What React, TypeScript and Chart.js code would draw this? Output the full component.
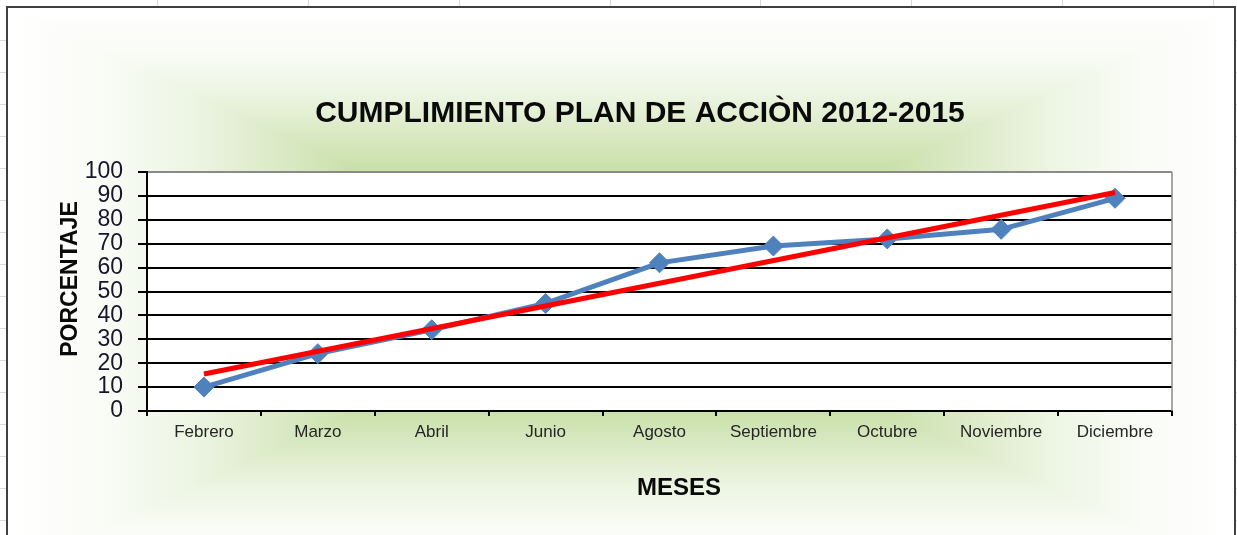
import React, { useEffect, useRef } from 'react';
import { Chart, registerables } from 'chart.js';

Chart.register(...registerables);

const TITLE = 'CUMPLIMIENTO PLAN DE ACCIÒN 2012-2015';
const Y_TITLE = 'PORCENTAJE';
const X_TITLE = 'MESES';

const months = ['Febrero', 'Marzo', 'Abril', 'Junio', 'Agosto', 'Septiembre', 'Octubre', 'Noviembre', 'Diciembre'];
const cumplimiento = [10, 24, 34, 45, 62, 69, 72, 76, 89];
const tendencia = [15.5, null, null, null, null, null, null, null, 91.4];

const Y_MIN = 0;
const Y_MAX = 100;
const Y_STEP = 10;

const FAMILY = "'Liberation Sans', Arial, sans-serif";
const W = 1226;
const H = 560;

const sheetCols = [157, 308, 459, 610, 760, 911, 1062, 1213];
const sheetRows = [40, 72, 104, 136, 168, 200, 232, 264, 296, 328, 360, 392, 424, 456, 488, 520];

const STOPS: [number, string][] = [
  [0, '#b7d68e'],
  [0.4, '#c5dea2'],
  [0.55, '#dae9c4'],
  [0.7, '#edf5e3'],
  [0.85, '#fafcf7'],
  [1, '#ffffff'],
];

const decorPlugin = {
  id: 'decor',
  beforeDraw(chart: any) {
    const ctx = chart.ctx as CanvasRenderingContext2D;
    const cx = 613;
    const cy = 282;
    const w = W;
    const h = cy * 2;
    ctx.save();
    // vertical (top/bottom) part over the whole box
    const gv = ctx.createLinearGradient(0, 0, 0, h);
    STOPS.forEach(([o, c]) => gv.addColorStop(0.5 - o / 2, c));
    STOPS.forEach(([o, c]) => gv.addColorStop(0.5 + o / 2, c));
    ctx.fillStyle = gv;
    ctx.fillRect(0, 0, W, H);
    // left / right triangles on top
    const tris = [
      { a: [0, 0], b: [0, h], to: [0, cy] },
      { a: [w, 0], b: [w, h], to: [w, cy] },
    ];
    for (const t of tris) {
      const g = ctx.createLinearGradient(cx, cy, t.to[0], t.to[1]);
      STOPS.forEach(([o, c]) => g.addColorStop(o, c));
      ctx.beginPath();
      ctx.moveTo(cx, cy);
      ctx.lineTo(t.a[0], t.a[1]);
      ctx.lineTo(t.b[0], t.b[1]);
      ctx.closePath();
      ctx.fillStyle = g;
      ctx.fill();
    }
    const a = chart.chartArea;
    ctx.fillStyle = '#ffffff';
    ctx.fillRect(a.left, a.top, a.right - a.left, a.bottom - a.top);
    ctx.restore();
  },
  beforeDatasetsDraw(chart: any) {
    const ctx = chart.ctx as CanvasRenderingContext2D;
    const a = chart.chartArea;
    ctx.save();
    ctx.strokeStyle = '#8a8a8a';
    ctx.lineWidth = 1.5;
    ctx.beginPath();
    ctx.moveTo(a.right, a.top);
    ctx.lineTo(a.right, a.bottom);
    ctx.stroke();
    ctx.restore();
  },
  afterDraw(chart: any) {
    const ctx = chart.ctx as CanvasRenderingContext2D;
    ctx.save();
    ctx.fillStyle = '#0a0a0a';
    ctx.textAlign = 'center';
    ctx.textBaseline = 'middle';
    ctx.font = `bold 30px ${FAMILY}`;
    ctx.fillText(TITLE, 632, 106);
    ctx.font = `bold 24px ${FAMILY}`;
    ctx.fillText(X_TITLE, 671, 480);
    ctx.translate(63, 271);
    ctx.rotate(-Math.PI / 2);
    ctx.font = `bold 23px ${FAMILY}`;
    ctx.fillText(Y_TITLE, 0, 0);
    ctx.restore();
  },
};

export default function App() {
  const ref = useRef<HTMLCanvasElement>(null);

  useEffect(() => {
    if (!ref.current) return;
    const chart = new Chart(ref.current, {
      type: 'line',
      data: {
        labels: months,
        datasets: [
          {
            label: 'Tendencia',
            data: tendencia,
            borderColor: '#ff0000',
            backgroundColor: '#ff0000',
            borderWidth: 5,
            pointRadius: 0,
            spanGaps: true,
            order: 0,
          },
          {
            label: 'Cumplimiento',
            data: cumplimiento,
            borderColor: '#4f81bd',
            backgroundColor: '#4f81bd',
            borderWidth: 5,
            pointStyle: 'rectRot',
            pointRadius: 10,
            pointBackgroundColor: '#4f81bd',
            pointBorderColor: '#4f81bd',
            pointBorderWidth: 1,
            tension: 0,
            order: 1,
          },
        ],
      },
      options: {
        responsive: false,
        animation: false,
        layout: { padding: { left: 0, right: 62, top: 164, bottom: 0 } },
        plugins: {
          legend: { display: false },
          title: { display: false },
          tooltip: { enabled: false },
        },
        scales: {
          x: {
            type: 'category',
            offset: true,
            grid: {
              offset: true,
              drawOnChartArea: false,
              drawTicks: true,
              tickLength: 5,
              tickColor: '#000',
              tickWidth: 2,
              color: '#000',
              lineWidth: 2,
            },
            border: { display: true, color: '#000', width: 2 },
            ticks: {
              font: { family: FAMILY, size: 17 },
              color: '#262626',
              padding: 6,
              maxRotation: 0,
              autoSkip: false,
            },
            afterFit: (s: any) => {
              s.height = 157;
            },
          },
          y: {
            min: Y_MIN,
            max: Y_MAX,
            ticks: {
              stepSize: Y_STEP,
              autoSkip: false,
              font: { family: FAMILY, size: 23, lineHeight: 1 },
              color: '#16162a',
              padding: 15,
            },
            grid: {
              color: (c: any) => (c.tick && c.tick.value === Y_MAX ? '#8a8a8a' : '#000'),
              lineWidth: 2,
              tickLength: 9,
              tickColor: '#000',
            },
            border: { display: true, color: '#000', width: 2 },
            afterFit: (s: any) => {
              s.width = 139;
            },
          },
        },
      },
      plugins: [decorPlugin],
    } as any);
    return () => chart.destroy();
  }, []);

  return (
    <div style={{ position: 'fixed', left: 0, top: 0, width: 1237, height: 535, overflow: 'hidden', background: '#fff' }}>
      {sheetCols.map((x) => (
        <div key={'c' + x} style={{ position: 'absolute', left: x, top: 0, width: 1, height: 535, background: '#d8dadc' }} />
      ))}
      {sheetRows.map((y) => (
        <div key={'r' + y} style={{ position: 'absolute', left: 0, top: y, width: 1237, height: 1, background: '#d8dadc' }} />
      ))}
      <div
        style={{
          position: 'absolute',
          left: 6,
          top: 6,
          width: W,
          height: H,
          border: '2px solid #404040',
          background: '#fff',
        }}
      >
        <canvas ref={ref} width={W} height={H} style={{ display: 'block', width: W, height: H }} />
      </div>
    </div>
  );
}
